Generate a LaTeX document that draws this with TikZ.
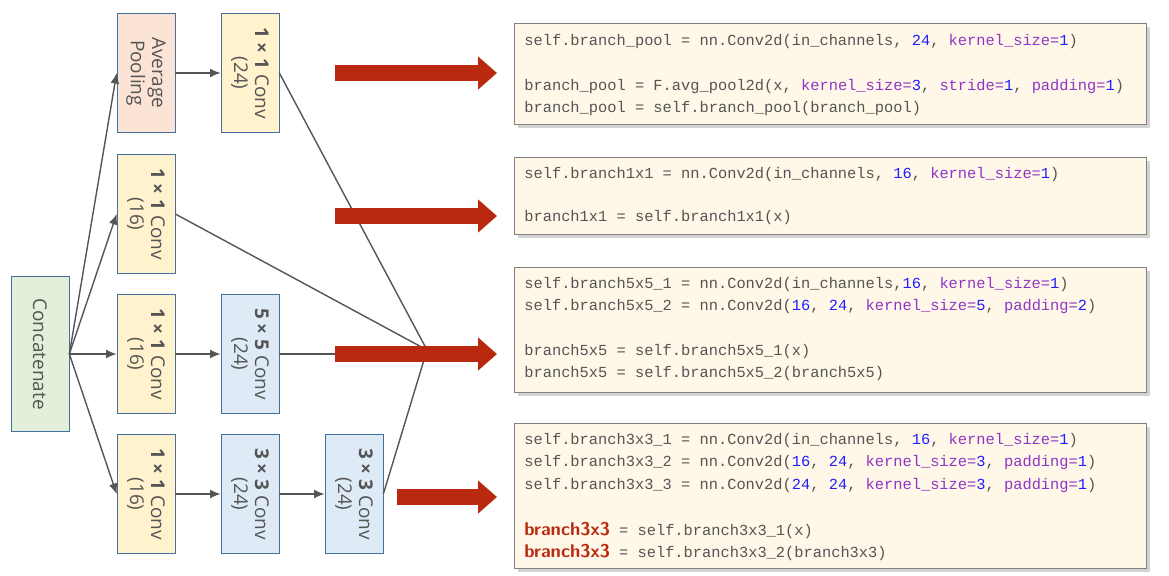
\documentclass[tikz,border=0pt]{standalone}
\usepackage{fontspec}
\setmainfont{Open Sans}
\setmonofont{Liberation Mono}
\usetikzlibrary{arrows.meta,shadows}
\definecolor{edgeblue}{HTML}{41719C}
\definecolor{fillorange}{HTML}{FBE3D6}
\definecolor{fillyellow}{HTML}{FFF2CC}
\definecolor{fillblue}{HTML}{DEEBF7}
\definecolor{fillgreen}{HTML}{E2EFDA}
\definecolor{codebg}{HTML}{FFF8E8}
\definecolor{numblue}{HTML}{1F1FFF}
\definecolor{kwpurple}{HTML}{8E35C8}
\definecolor{hotred}{HTML}{B8290F}
\definecolor{txtgray}{HTML}{555555}
\newcommand{\nm}[1]{\textcolor{numblue}{#1}}
\newcommand{\kw}[1]{\textcolor{kwpurple}{#1}}
\newcommand{\hl}[1]{{\fontsize{10.5}{12}\sffamily\bfseries\textcolor{hotred}{#1}}}
\tikzset{
	blk/.style 2 args={draw=edgeblue,fill=#1,minimum width=1.16cm,minimum height=2.38cm,inner sep=0pt,
		label={[rotate=-90,align=center,text=txtgray,font=\fontsize{10.8}{12}\selectfont]center:{#2}}},
	link/.style={draw=txtgray,thick,-{Latex[length=6pt,width=5pt]}},
	merge/.style={draw=txtgray,thick},
	bigarrow/.style={draw=hotred,line width=0.32cm,-{Triangle[length=0.38cm,width=0.64cm]}},
	codebox/.style={draw=gray,fill=codebg,drop shadow={shadow xshift=2pt,shadow yshift=-2pt,opacity=0.35}},
	code/.style={anchor=west,inner sep=0pt,font=\ttfamily\fontsize{8.75}{10}\selectfont,text=txtgray}
}
\begin{document}
\begin{tikzpicture}[x=0.02cm,y=-0.02cm]
	\useasboundingbox (0,0) rectangle (1169,575);

	% blocks
	\node [blk={fillgreen}{Concatenate}, minimum height=3.1cm] (cat) at (40,354) {};
	\node [blk={fillorange}{Average\\Pooling}] (pool) at (146,73) {};
	\node [blk={fillyellow}{\textbf{1 × 1} Conv\\(24)}] (pconv) at (250,73) {};
	\node [blk={fillyellow}{\textbf{1 × 1} Conv\\(16)}] (onea) at (146,214) {};
	\node [blk={fillyellow}{\textbf{1 × 1} Conv\\(16)}] (oneb) at (146,354) {};
	\node [blk={fillblue}{\textbf{5 × 5} Conv\\(24)}] (five) at (250,354) {};
	\node [blk={fillyellow}{\textbf{1 × 1} Conv\\(16)}] (onec) at (146,494) {};
	\node [blk={fillblue}{\textbf{3 × 3} Conv\\(24)}] (threea) at (250,494) {};
	\node [blk={fillblue}{\textbf{3 × 3} Conv\\(24)}] (threeb) at (354,494) {};
	\coordinate (meet) at (427,350);

	% connectors
	\draw [link] (cat.east) -- (pool.west);
	\draw [link] (cat.east) -- (onea.west);
	\draw [link] (cat.east) -- (oneb.west);
	\draw [link] (cat.east) -- (onec.west);
	\draw [link] (pool) -- (pconv);
	\draw [link] (oneb) -- (five);
	\draw [link] (onec) -- (threea);
	\draw [link] (threea) -- (threeb);
	\draw [merge] (pconv.east) -- (meet);
	\draw [merge] (onea.east) -- (meet);
	\draw [merge] (five.east) -- (meet |- five.east);
	\draw [merge] (threeb.east) -- (meet);

	% red arrows
	\coordinate (a1) at (335,73);  \coordinate (b1) at (497,73);
	\coordinate (a2) at (335,216); \coordinate (b2) at (497,216);
	\coordinate (a3) at (335,354); \coordinate (b3) at (497,354);
	\coordinate (a4) at (397,497); \coordinate (b4) at (497,497);
	\foreach \i in {1,...,4}
		\draw [bigarrow] (a\i) -- (b\i);

	% code boxes
	\draw [codebox] (514,23) rectangle (1146,124);
	\draw [codebox] (514,157) rectangle (1146,234);
	\draw [codebox] (514,267) rectangle (1146,392);
	\draw [codebox] (514,423) rectangle (1146,568);

	\node [code] (c11) at (524,42) {self.branch\_pool = nn.Conv2d(in\_channels, \nm{24}, \kw{kernel\_size=}\nm{1})};
	\node [code] (c12) at (524,87) {branch\_pool = F.avg\_pool2d(x, \kw{kernel\_size=}\nm{3}, \kw{stride=}\nm{1}, \kw{padding=}\nm{1})};
	\node [code] (c13) at (524,109) {branch\_pool = self.branch\_pool(branch\_pool)};

	\node [code] (c21) at (524,175) {self.branch1x1 = nn.Conv2d(in\_channels, \nm{16}, \kw{kernel\_size=}\nm{1})};
	\node [code] (c22) at (524,218) {branch1x1 = self.branch1x1(x)};

	\node [code] (c31) at (524,285) {self.branch5x5\_1 = nn.Conv2d(in\_channels,\nm{16}, \kw{kernel\_size=}\nm{1})};
	\node [code] (c32) at (524,307) {self.branch5x5\_2 = nn.Conv2d(\nm{16}, \nm{24}, \kw{kernel\_size=}\nm{5}, \kw{padding=}\nm{2})};
	\node [code] (c33) at (524,352) {branch5x5 = self.branch5x5\_1(x)};
	\node [code] (c34) at (524,374) {branch5x5 = self.branch5x5\_2(branch5x5)};

	\node [code] (c41) at (524,441) {self.branch3x3\_1 = nn.Conv2d(in\_channels, \nm{16}, \kw{kernel\_size=}\nm{1})};
	\node [code] (c42) at (524,463) {self.branch3x3\_2 = nn.Conv2d(\nm{16}, \nm{24}, \kw{kernel\_size=}\nm{3}, \kw{padding=}\nm{1})};
	\node [code] (c43) at (524,486) {self.branch3x3\_3 = nn.Conv2d(\nm{24}, \nm{24}, \kw{kernel\_size=}\nm{3}, \kw{padding=}\nm{1})};
	\node [code] (c44) at (524,530) {\hl{branch3x3} = self.branch3x3\_1(x)};
	\node [code] (c45) at (524,552) {\hl{branch3x3} = self.branch3x3\_2(branch3x3)};
\end{tikzpicture}
\end{document}
